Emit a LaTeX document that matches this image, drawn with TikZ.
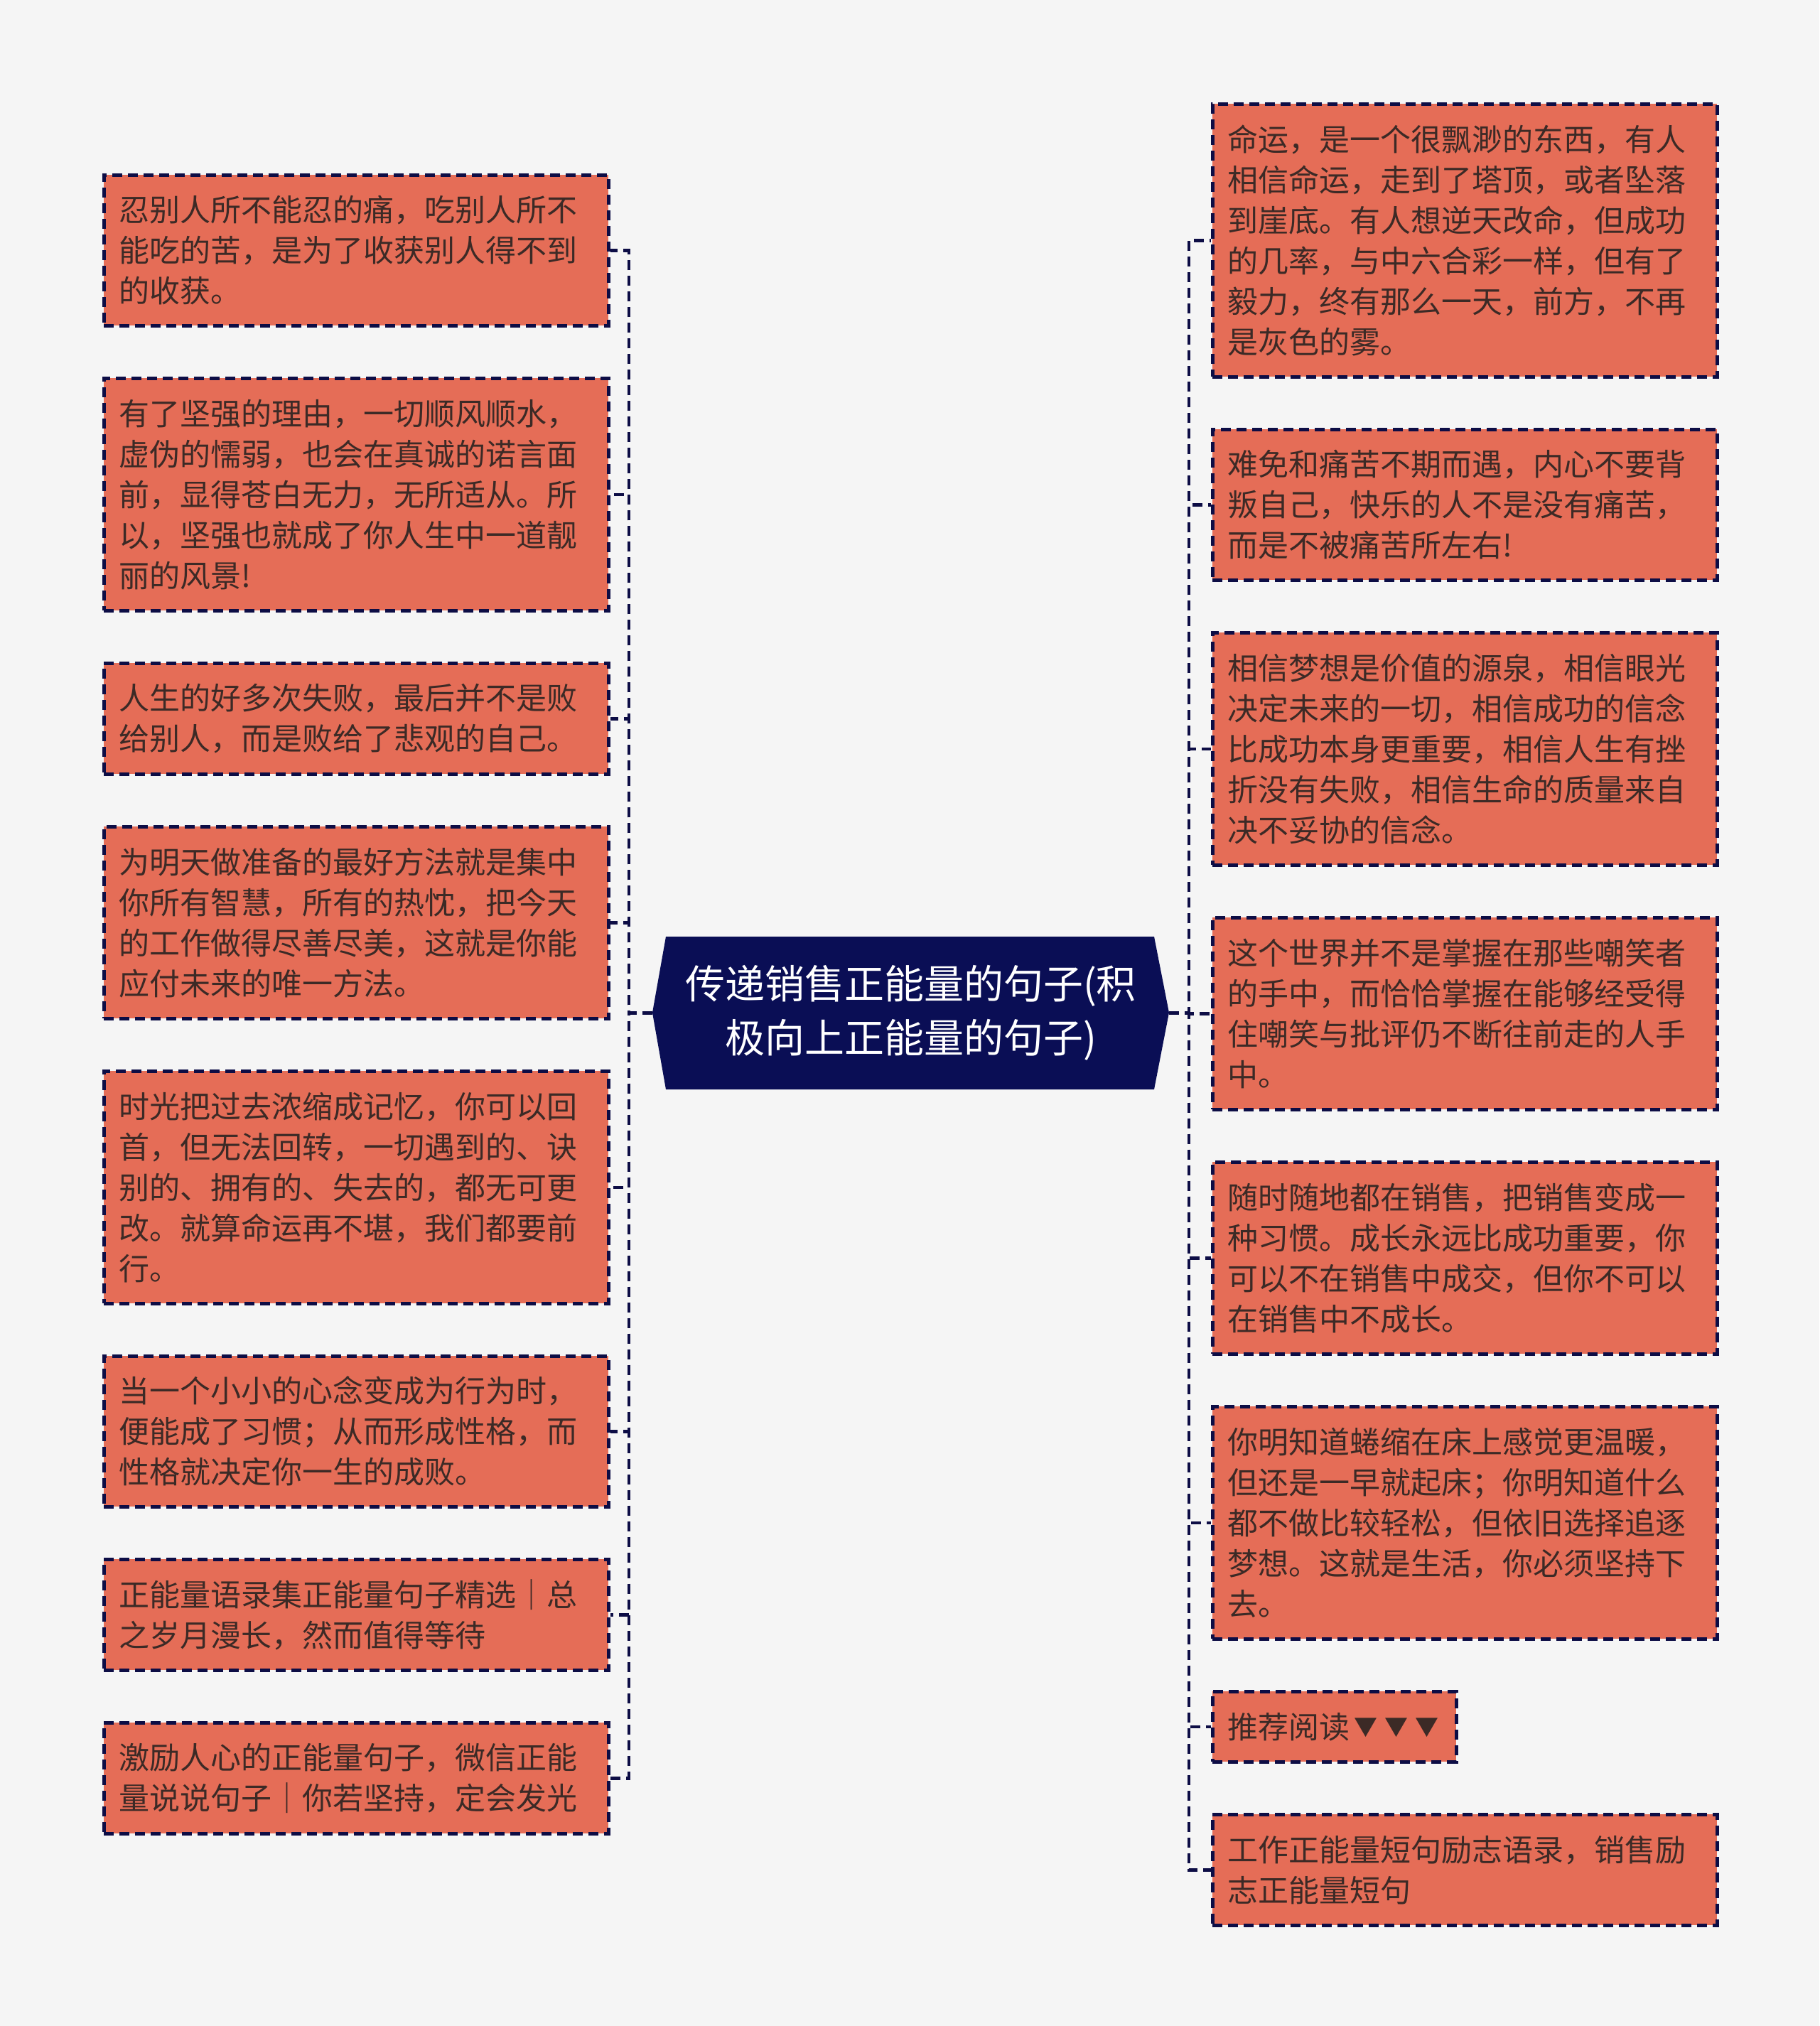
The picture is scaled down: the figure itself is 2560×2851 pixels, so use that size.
\documentclass[tikz,border=0pt]{standalone}
\usepackage{fontspec}
\setmainfont{Noto Sans CJK SC}
\definecolor{bg}{HTML}{F5F5F5}
\definecolor{boxfill}{HTML}{E56D57}
\definecolor{navy}{HTML}{0A0E55}
\definecolor{bordercol}{HTML}{0D0D45}
\definecolor{txt}{HTML}{3C2A26}
\begin{document}
\begin{tikzpicture}[x=1pt,y=1pt,
  box/.style={draw=bordercol, line width=4.5pt, dash pattern=on 14pt off 8pt,
    fill=boxfill, text=txt, font=\fontsize{43}{57}\selectfont, align=left,
    text width=668pt, inner xsep=21pt, inner ysep=0pt, anchor=north west},
  conn/.style={draw=bordercol, line width=4.5pt, dash pattern=on 14pt off 8pt},
  title/.style={font=\fontsize{56}{76}\selectfont, text=white, align=center,
    minimum width=727pt, minimum height=215pt, inner sep=0pt}]
\fill[bg] (0,0) rectangle (2560,-2851);
\useasboundingbox (0,0) rectangle (2560,-2851);

% central node
\fill[navy] (918,-1425) -- (937,-1318) -- (1624,-1318) -- (1645,-1425) -- (1624,-1533) -- (937,-1533) -- cycle;
\node[title] (c) at (1281.5,-1425.5) {传递销售正能量的句子(积\\极向上正能量的句子)};

% left boxes
\node[box, minimum height=212pt] (l1) at (144,-244) {忍别人所不能忍的痛，吃别人所不\\能吃的苦，是为了收获别人得不到\\的收获。};
\node[box, minimum height=327pt] (l2) at (144,-530) {有了坚强的理由，一切顺风顺水，\\虚伪的懦弱，也会在真诚的诺言面\\前，显得苍白无力，无所适从。所\\以，坚强也就成了你人生中一道靓\\丽的风景!};
\node[box, minimum height=156pt] (l3) at (144,-931) {人生的好多次失败，最后并不是败\\给别人，而是败给了悲观的自己。};
\node[box, minimum height=270pt] (l4) at (144,-1161) {为明天做准备的最好方法就是集中\\你所有智慧，所有的热忱，把今天\\的工作做得尽善尽美，这就是你能\\应付未来的唯一方法。};
\node[box, minimum height=327pt] (l5) at (144,-1505) {时光把过去浓缩成记忆，你可以回\\首，但无法回转，一切遇到的、诀\\别的、拥有的、失去的，都无可更\\改。就算命运再不堪，我们都要前\\行。};
\node[box, minimum height=212pt] (l6) at (144,-1906) {当一个小小的心念变成为行为时，\\便能成了习惯；从而形成性格，而\\性格就决定你一生的成败。};
\node[box, minimum height=156pt] (l7) at (144,-2192) {正能量语录集正能量句子精选｜总\\之岁月漫长，然而值得等待};
\node[box, minimum height=156pt] (l8) at (144,-2422) {激励人心的正能量句子，微信正能\\量说说句子｜你若坚持，定会发光};

% right boxes
\node[box, minimum height=384pt] (r1) at (1704,-144) {命运，是一个很飘渺的东西，有人\\相信命运，走到了塔顶，或者坠落\\到崖底。有人想逆天改命，但成功\\的几率，与中六合彩一样，但有了\\毅力，终有那么一天，前方，不再\\是灰色的雾。};
\node[box, minimum height=212pt] (r2) at (1704,-602) {难免和痛苦不期而遇，内心不要背\\叛自己，快乐的人不是没有痛苦，\\而是不被痛苦所左右!};
\node[box, minimum height=327pt] (r3) at (1704,-888) {相信梦想是价值的源泉，相信眼光\\决定未来的一切，相信成功的信念\\比成功本身更重要，相信人生有挫\\折没有失败，相信生命的质量来自\\决不妥协的信念。};
\node[box, minimum height=270pt] (r4) at (1704,-1289) {这个世界并不是掌握在那些嘲笑者\\的手中，而恰恰掌握在能够经受得\\住嘲笑与批评仍不断往前走的人手\\中。};
\node[box, minimum height=270pt] (r5) at (1704,-1633) {随时随地都在销售，把销售变成一\\种习惯。成长永远比成功重要，你\\可以不在销售中成交，但你不可以\\在销售中不成长。};
\node[box, minimum height=327pt] (r6) at (1704,-1977) {你明知道蜷缩在床上感觉更温暖，\\但还是一早就起床；你明知道什么\\都不做比较轻松，但依旧选择追逐\\梦想。这就是生活，你必须坚持下\\去。};
\node[box, minimum height=99pt, text width=301pt] (r7) at (1704,-2378) {推荐阅读\hspace{6pt}\raisebox{4pt}{\fontsize{33}{57}\selectfont ▼\hspace{10pt}▼\hspace{10pt}▼}};
\node[box, minimum height=156pt] (r8) at (1704,-2551) {工作正能量短句励志语录，销售励\\志正能量短句};

% trunks
\coordinate (lt) at (885,-1425.5);
\coordinate (rt) at (1673,-1425.5);
\foreach \n in {l1,l2,l3,l4,l5,l6,l7,l8}
  \draw[conn] (c.west) -- (lt) |- (\n.east);
\foreach \n in {r1,r2,r3,r4,r5,r6,r7,r8}
  \draw[conn] (c.east) -- (rt) |- (\n.west);
\end{tikzpicture}
\end{document}
